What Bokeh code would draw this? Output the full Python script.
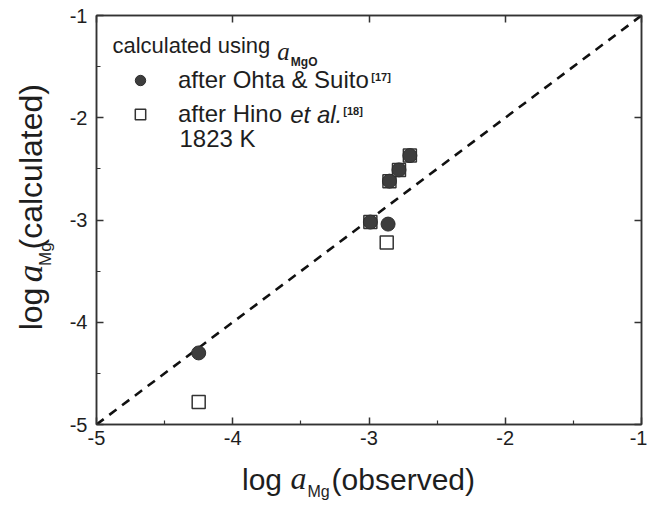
from bokeh.plotting import figure
from bokeh.models import Label, Legend, LegendItem, FixedTicker, LinearAxis, Range1d
from bokeh.layouts import column, row
from bokeh.embed import file_html
from bokeh.resources import INLINE

# ---------------- data ----------------
ohta_obs = [-4.25, -2.86, -2.99, -2.85, -2.78, -2.70]
ohta_calc = [-4.30, -3.04, -3.02, -2.62, -2.51, -2.37]
hino_obs = [-4.25, -2.87, -2.99, -2.85, -2.78, -2.70]
hino_calc = [-4.78, -3.22, -3.02, -2.62, -2.51, -2.37]
diag = [-5, -1]
major_ticks = [-5, -4, -3, -2, -1]
minor_ticks = [-4.5, -3.5, -2.5, -1.5]
tick_text = {t: str(t) for t in major_ticks}

# ---------------- layout (picture pixels) ----------------
TOTAL_W, TOTAL_H = 647, 510
YT_W = 62            # strip for the y title
BL, BR, BT, BB = 96 - YT_W, 6, 15, 32
XT_H = TOTAL_H - (424 + BB)   # strip for the x title
MW, MH = TOTAL_W - YT_W, TOTAL_H - XT_H
XMIN, XMAX, YMIN, YMAX = -5, -1, -5, -1
FRAME_L, FRAME_T = YT_W + BL, BT
FRAME_W, FRAME_H = MW - BL - BR, MH - BT - BB
MID = 0.35           # distance from em-middle to alphabetic baseline, in em

TXT = "#1e1e1e"
AX = "#333333"
SANS = "Liberation Sans"
SERIF = "Liberation Serif"


def px_x(px):
    return XMIN + (px - FRAME_L) * (XMAX - XMIN) / FRAME_W


def px_y(py):
    return YMAX - (py - FRAME_T) * (YMAX - YMIN) / FRAME_H


WID = {' ': 278, '(': 333, ')': 333, '[': 278, ']': 278, '&': 667, '.': 278,
       'K': 667, 'M': 833, 'O': 778, 'S': 667, 'H': 722,
       'a': 556, 'b': 556, 'c': 500, 'd': 556, 'e': 556, 'f': 278, 'g': 556,
       'h': 556, 'i': 222, 'l': 222, 'n': 556, 'o': 556, 'r': 333, 's': 500,
       't': 278, 'u': 556, 'v': 500}
WID_B = {'[': 333, ']': 333, 'M': 833, 'g': 611, 'O': 778}


def text_w(s, size, font, style):
    if font == SERIF:
        return 500 * len(s) * size / 1000.0
    tab = WID_B if "bold" in style else WID
    return sum(tab.get(c, 556) for c in s) * size / 1000.0


def total(pieces):
    return sum(text_w(t, s, f, st) + g for t, s, f, st, _, g in pieces)


def lab(x, y, text, size, font, style, angle=0.0):
    return Label(x=x, y=y, text=text, angle=angle, text_font=font,
                 text_font_size=f"{size}px", text_font_style=style,
                 text_color=TXT, text_baseline="middle", text_align="center")


# ---------------- main plot ----------------
p = figure(width=MW, height=MH, x_range=(XMIN, XMAX), y_range=(YMIN, YMAX),
           output_backend="svg", toolbar_location=None,
           min_border_left=BL, min_border_right=BR, min_border_top=BT,
           min_border_bottom=BB)
p.grid.visible = False
p.outline_line_color = AX
p.outline_line_width = 1.5

for ax in (p.xaxis[0], p.yaxis[0]):
    ax.ticker = FixedTicker(ticks=major_ticks, minor_ticks=minor_ticks)
    ax.major_label_overrides = tick_text
    ax.major_tick_in = 7
    ax.major_tick_out = 0
    ax.minor_tick_in = 4
    ax.minor_tick_out = 0
    ax.axis_line_color = AX
    ax.axis_line_width = 1.5
    ax.major_tick_line_color = AX
    ax.minor_tick_line_color = AX
    ax.major_tick_line_width = 1.5
    ax.minor_tick_line_width = 1.2
    ax.major_label_text_font = SANS
    ax.major_label_text_font_size = "20px"
    ax.major_label_text_color = TXT
p.xaxis[0].major_label_standoff = 6
p.yaxis[0].major_label_standoff = 9

for loc in ("above", "right"):
    a = LinearAxis(ticker=FixedTicker(ticks=major_ticks, minor_ticks=[]),
                   major_label_overrides={t: "" for t in major_ticks},
                   major_label_text_font_size="1px", major_label_standoff=0,
                   major_tick_in=7, major_tick_out=0, minor_tick_in=0,
                   minor_tick_out=0, axis_line_color=AX, axis_line_width=1.5,
                   major_tick_line_color=AX, major_tick_line_width=1.5)
    p.add_layout(a, loc)

p.line(diag, diag, line_color="#111111", line_width=2.6, line_dash="9 7")

rs = p.scatter(hino_obs, hino_calc, marker="square", size=13,
               fill_color="white", line_color="#333333", line_width=1.5)
rc = p.scatter(ohta_obs, ohta_calc, marker="circle", size=14,
               fill_color="#3d3d3d", line_color="#2e2e2e", line_width=1)

legend = Legend(items=[LegendItem(label="after Ohta & Suito", renderers=[rc]),
                       LegendItem(label="after Hino", renderers=[rs])],
                location=(31, 296), orientation="vertical",
                glyph_width=26, glyph_height=28, label_height=28,
                label_standoff=25, spacing=6, padding=0, margin=0,
                border_line_color=None, background_fill_alpha=0,
                label_text_font=SANS, label_text_font_size="24px",
                label_text_color=TXT)
p.add_layout(legend)


def run_h(fig, conv_x, conv_y, pieces, x0, base):
    """pieces: (text, size, font, style, baseline shift up px, gap after px)"""
    pos = x0
    for text, size, font, style, shift, gap in pieces:
        w = text_w(text, size, font, style)
        cy = base - shift - MID * size
        fig.add_layout(lab(conv_x(pos + w / 2), conv_y(cy), text, size, font, style))
        pos += w + gap


ident = lambda v: v

# legend header and decorations (inside the frame)
run_h(p, px_x, px_y, [("calculated using ", 22, SANS, "normal", 0, 1),
                      ("a", 25, SERIF, "italic", -7, 1),
                      ("MgO", 12, SANS, "bold", -13, 0)], 112, 53)
x_after1 = 179 + text_w("after Ohta & Suito", 24, SANS, "normal")
run_h(p, px_x, px_y, [("[17]", 11, SANS, "bold", 8, 0)], x_after1 + 1, 88)
x_hino = 179 + text_w("after Hino ", 24, SANS, "normal")
run_h(p, px_x, px_y, [("et al.", 24, SANS, "italic", 0, 1),
                      ("[18]", 11, SANS, "bold", 8, 0)], x_hino, 122)
run_h(p, px_x, px_y, [("1823 K", 24, SANS, "normal", 0, 0)], 179, 146)

# ---------------- y title strip ----------------
yf = figure(width=YT_W, height=MH, x_range=(0, YT_W), y_range=Range1d(MH, 0),
            output_backend="svg", toolbar_location=None,
            x_axis_location=None, y_axis_location=None,
            min_border_left=0, min_border_right=0, min_border_top=0,
            min_border_bottom=0)
yf.grid.visible = False
yf.outline_line_color = None

yt = [("log ", 32, SANS, "normal", 0, 0), ("a", 35, SERIF, "italic", 0, 1),
      ("Mg", 17, SANS, "normal", -9, 3), ("(calculated)", 32, SANS, "normal", 0, 0)]
Y_BASE = 42
pos = 217 + total(yt) / 2
for text, size, font, style, shift, gap in yt:
    w = text_w(text, size, font, style)
    cx = Y_BASE - shift - MID * size
    yf.add_layout(lab(cx, pos - w / 2, text, size, font, style,
                      angle=1.5707963267948966))
    pos -= w + gap

# ---------------- x title strip ----------------
xf = figure(width=TOTAL_W, height=XT_H, x_range=(0, TOTAL_W),
            y_range=Range1d(TOTAL_H, MH),
            output_backend="svg", toolbar_location=None,
            x_axis_location=None, y_axis_location=None,
            min_border_left=0, min_border_right=0, min_border_top=0,
            min_border_bottom=0)
xf.grid.visible = False
xf.outline_line_color = None

xt = [("log ", 30, SANS, "normal", 0, 0), ("a", 32, SERIF, "italic", 0, 1),
      ("Mg", 16, SANS, "normal", -8, 2), ("(observed)", 30, SANS, "normal", 0, 0)]
run_h(xf, ident, ident, xt, 358 - total(xt) / 2, 489)

layout = column(row(yf, p, spacing=0), xf, spacing=0)
open("out.html", "w").write(file_html(layout, INLINE))
